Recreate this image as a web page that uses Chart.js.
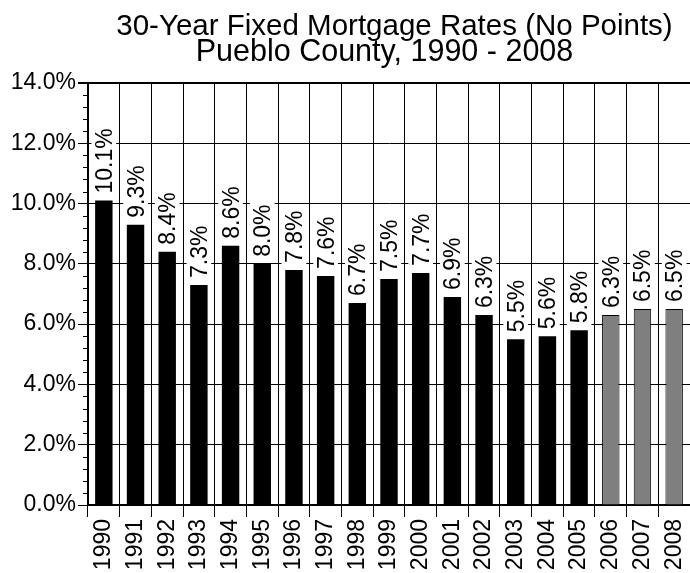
<!DOCTYPE html>
<html>
<head>
<meta charset="utf-8">
<script src="https://cdn.jsdelivr.net/npm/chart.js"></script>
<style>
	body { margin: 0; background: white; }
	#wrap { width: 690px; height: 573px; }
</style>
</head>
<body>
<div id="wrap"><canvas id="RateChart"></canvas></div>
<script>

const years = ["1990","1991","1992","1993","1994","1995","1996","1997","1998","1999",
	"2000","2001","2002","2003","2004","2005","2006","2007","2008"];
const rates = [10.1, 9.3, 8.4, 7.3, 8.6, 8.0, 7.8, 7.6, 6.7, 7.5, 7.7, 6.9, 6.3, 5.5, 5.6, 5.8, 6.3, 6.5, 6.5];
const titleLines = ["30-Year Fixed Mortgage Rates (No Points)", "Pueblo County, 1990 - 2008"];
const yMin = 0, yMax = 14, yStep = 2;

const fontFam = "'Liberation Sans', Arial, sans-serif";

// gray bars for the last three years
function barColor(ctx) {
	return parseInt(years[ctx.dataIndex]) >= 2006 ? '#7f7f7f' : 'black';
}

// title centred over the plot area
const titlePlugin = {
	id: 'plotTitle',
	afterDraw(chart) {
		const c = chart.ctx;
		const mid = (chart.chartArea.left + chart.chartArea.right) / 2;
		c.save();
		c.fillStyle = 'black';
		c.textAlign = 'center';
		c.textBaseline = 'alphabetic';
		c.font = "29.5px " + fontFam;
		c.fillText(titleLines[0], mid + 5.5, 35);
		c.font = "30.5px " + fontFam;
		c.fillText(titleLines[1], mid - 4.5, 61);
		c.restore();
	}
};

// minor ticks on the y axis (4 between each labelled step)
const minorTicks = {
	id: 'minorTicks',
	afterDraw(chart) {
		const y = chart.scales.y;
		const c = chart.ctx;
		const x0 = chart.chartArea.left;
		c.save();
		c.strokeStyle = 'black';
		c.lineWidth = 1;
		for (let v = yMin; v < yMax; v += yStep) {
			for (let k = 1; k < 5; k++) {
				const py = Math.round(y.getPixelForValue(v + k * yStep / 5)) + 0.5;
				c.beginPath();
				c.moveTo(x0 - 5, py);
				c.lineTo(x0, py);
				c.stroke();
			}
		}
		c.restore();
	}
};

// value labels, rotated, on a white box above each bar
const valueLabels = {
	id: 'valueLabels',
	afterDatasetsDraw(chart) {
		const c = chart.ctx;
		const meta = chart.getDatasetMeta(0);
		const xs = chart.scales.x;
		const colW = xs.width / years.length;
		c.save();
		c.font = "23px " + fontFam;
		meta.data.forEach((bar, i) => {
			const txt = rates[i].toFixed(1) + '%';
			const w = c.measureText(txt).width;
			const gap = 7;
			c.fillStyle = 'white';
			c.fillRect(bar.x - colW / 2 + 3.5, bar.y - gap - w - 3, colW - 7, w + gap + 2);
			c.save();
			c.translate(bar.x + 8, bar.y - gap);
			c.rotate(-Math.PI / 2);
			c.fillStyle = 'black';
			c.textAlign = 'left';
			c.textBaseline = 'alphabetic';
			c.fillText(txt, 0, 0);
			c.restore();
		});
		c.restore();
	}
};

const data = {
	labels: years,
	datasets: [{
		data: rates,
		backgroundColor: barColor,
		borderColor: 'black',
		borderWidth: ctx => parseInt(years[ctx.dataIndex]) >= 2006 ? 1 : 0,
		barPercentage: 0.55,
		categoryPercentage: 1.0
	}]
};

const config = {
	type: 'bar',
	data,
	options: {
		responsive: true,
		maintainAspectRatio: false,
		animation: false,
		layout: { padding: { top: 83, left: 0, right: 0, bottom: 0 } },
		plugins: {
			legend: { display: false },
			title: { display: false },
			tooltip: { enabled: false }
		},
		scales: {
			x: {
				afterFit: s => { s.paddingLeft = 0; s.paddingRight = 0; s.height = 68; },
				grid: {
					color: 'black',
					lineWidth: 1,
					offset: true,
					tickLength: 12,
					tickColor: 'black'
				},
				border: { display: true, color: 'black', width: 2 },
				ticks: {
					color: 'black',
					font: { size: 23, family: fontFam },
					minRotation: 90,
					maxRotation: 90,
					autoSkip: false,
					padding: 2
				}
			},
			y: {
				min: yMin,
				max: yMax,
				afterFit: s => { s.width = 88; s.paddingTop = 0; s.paddingBottom = 0; },
				grid: {
					color: 'black',
					lineWidth: ctx => ctx.tick && ctx.tick.value === yMax ? 2 : 1,
					tickLength: 10,
					tickColor: 'black'
				},
				border: { display: true, color: 'black', width: 2 },
				ticks: {
					stepSize: yStep,
					color: 'black',
					font: { size: 23, family: fontFam },
					padding: 2,
					callback: v => v.toFixed(1) + '%'
				}
			}
		}
	},
	plugins: [titlePlugin, minorTicks, valueLabels]
};

var myChart = new Chart(document.getElementById('RateChart'), config);
</script>
</body>
</html>
